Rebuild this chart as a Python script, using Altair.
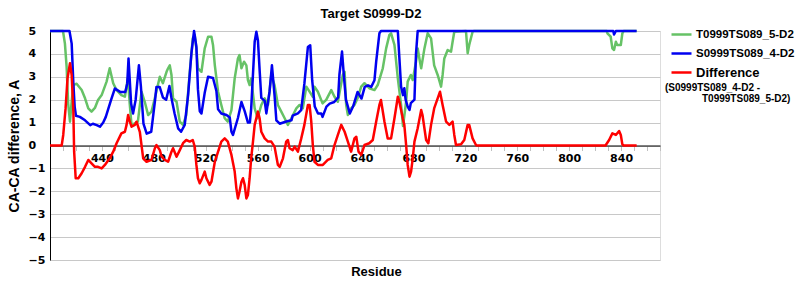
import altair as alt
import pandas as pd

title_text = "Target S0999-D2"
names = ["T0999TS089_5-D2", "S0999TS089_4-D2", "Difference"]
colors = ["#66c266", "#0000f0", "#ff0000"]
note_lines = ["(S0999TS089_4-D2 -", "T0999TS089_5-D2)"]
x_ticks = list(range(400, 871, 10))
x_labels = list(range(440, 841, 40))
y_ticks = list(range(-5, 6))

green_res = [400, 410, 411.5, 412.8, 414, 415.4, 416.5, 418, 420.5, 424.4, 427, 429.5, 432, 434.6, 437, 439.8,
             443.6, 446, 448.7, 451.3, 455, 457.7, 460, 461.5, 462.8, 465.4, 467.7, 470.5, 473, 475.6, 478.2,
             480.8, 484.6, 487, 489.8, 491, 492.3, 493.6, 494.8, 497.5, 500, 502.5, 505, 507.7, 510, 511.5,
             512.8, 514, 516.7, 519.2, 521.8, 524.4, 525.6, 527, 529.5, 532, 534.6, 537, 539.8, 542.3, 544.8,
             546, 547.5, 549.5, 551.3, 552.5, 553.8, 555, 557.7, 560, 562.8, 565.4, 568, 570.5, 573, 575.6,
             578.2, 580.8, 583.3, 586, 589.8, 592.3, 594.8, 597.5, 600, 602.5, 603.8, 606.4, 610, 612.8, 616.7,
             619.2, 621.8, 625.6, 627, 628.2, 629.5, 632, 634.6, 637, 639.8, 642.3, 646, 650, 652.5, 656.4, 659,
             661.5, 662.8, 665.4, 668, 670.5, 672, 674.4, 675.6, 678, 679.5, 682, 683.3, 684.6, 686, 688.5, 691,
             693.6, 696, 698.7, 701.3, 702.5, 703.8, 706.4, 709, 710.2, 711.5, 720.5, 721.8, 723, 725.6, 726.5,
             829, 829.5, 832, 833.3, 834.6, 836, 837, 839.8, 841, 842, 852]
green_val = [5, 5, 4.45, 3.43, 1.83, 1.04, 1.8, 2.64, 2.7, 2.42, 2.06, 1.62, 1.48, 1.64, 1.99, 2.2,
             2.79, 3.37, 2.72, 2.42, 2.2, 2.13, 2.95, 1.77, 0.9, 0.97, 1.04, 2.35, 1.91, 1.33, 1.48,
             2.07, 3.0, 2.72, 3.22, 3.37, 3.5, 3.08, 2.06, 1.91, 1.04, 0.9, 1.33, 3.22, 4.68, 4.83,
             4.24, 3.37, 3.22, 4.24, 4.75, 4.75, 4.39, 3.5, 2.35, 1.77, 1.19, 1.04, 1.55, 2.93, 3.8,
             3.95, 3.37, 3.66, 3.5, 2.86, 2.64, 2.93, 1.62, 1.19, 1.77, 2.06, 1.77, 3.08, 2.64, 1.77,
             1.48, 1.19, 0.9, 1.19, 1.62, 1.77, 1.62, 2.57, 2.35, 2.13, 2.57, 2.35, 1.84, 1.99, 2.42,
             2.13, 1.91, 3.08, 3.22, 1.77, 1.33, 1.62, 1.77, 2.06, 2.57, 2.72, 2.5, 2.42, 2.64, 3.37, 4.24,
             4.83, 4.9, 4.39, 2.93, 1.77, 0.85, 1.91, 2.79, 3.08, 2.86, 3.66, 4.24, 3.8, 3.37, 4.24, 4.9,
             4.68, 3.5, 3.08, 2.57, 3.08, 3.8, 4.17, 4.1, 4.53, 4.97, 5, 4.03, 4.39, 4.97, 5,
             5, 4.9, 4.75, 4.24, 4.17, 4.53, 4.39, 4.39, 4.9, 5, 5]

blue_res = [400, 415, 416.7, 418, 419, 420, 423, 427, 431, 433, 436, 438.5, 441, 443, 447, 450, 454, 458,
            459.5, 460.5, 462.5, 464, 466, 468.5, 470, 472, 474.5, 478, 481, 482, 484.5, 487, 489.5, 492,
            493.5, 496, 498.7, 501, 503.8, 506.4, 509, 511, 512.8, 514, 515.4, 516.7, 519.2, 521.8, 525.6,
            528.2, 529.5, 532, 536, 538.5, 539.8, 541, 544.8, 547.5, 550, 552.5, 554, 555, 557.7, 559, 560.2,
            561.5, 562.8, 565.4, 566.7, 569.2, 571, 573, 574.4, 577, 582, 586, 587, 591, 593.5, 596, 598.7,
            600.5, 602, 604, 606.5, 609, 610, 613, 615.5, 619, 622, 623, 625, 626.5, 628, 631, 633.5, 637,
            640, 642.5, 645, 647.5, 650, 651.3, 653.8, 655, 668, 669, 670.5, 672, 673, 674, 675.6, 677, 678,
            680.8, 682, 683.3, 834, 834.6, 836, 852]
blue_val = [5, 5, 4.45, 2.7, 1.7, 1.3, 1.25, 1.1, 0.89, 0.95, 0.89, 0.82, 1.0, 1.25, 1.98, 2.49, 2.34, 2.34,
            2.7, 3.8, 1.83, 1.4, 2.0, 3.5, 2.6, 0.96, 0.52, 0.6, 2.0, 2.56, 2.56, 2.1, 2.0, 2.6,
            2.1, 1.4, 0.75, 0.6, 0.9, 2.2, 4.05, 5.0, 4.3, 2.45, 1.5, 1.4, 2.3, 3.0, 2.95,
            2.38, 1.58, 1.4, 1.33, 1.22, 0.6, 0.46, 1.2, 1.9, 1.5, 1.0, 1.0, 1.6, 4.53, 4.97, 4.6,
            3.3, 2.08, 1.95, 1.4, 2.37, 3.5, 2.2, 1.1, 0.95, 1.05, 1.1, 1.3, 1.4, 1.54, 2.7, 4.3,
            4.38, 2.85, 1.7, 1.4, 1.4, 1.25, 1.7, 1.83, 1.9, 2.1, 3.1, 4.1, 3.0, 2.0, 1.4, 1.7, 2.34,
            2.05, 2.56, 2.63, 2.56, 2.85, 3.65, 4.9, 5, 5, 4.0, 2.57, 2.2, 2.5, 2.0, 1.7, 1.55, 1.85,
            2.0, 4.0, 5, 5, 4.85, 5, 5]

red_res = [400, 409, 410.2, 412, 413.5, 415.4, 416.7, 418, 418.6, 419.8, 421.8, 424.4, 427, 429.5, 432, 434.6,
           437, 439.8, 442.3, 446, 448.7, 451.3, 455, 457.7, 459, 460.2, 461.5, 462.8, 465.4, 466.7, 469.2,
           470.5, 471.8, 474.4, 478.2, 480.8, 482, 484.6, 486, 488.5, 491, 493.6, 494.8, 497.5, 500, 502.5,
           505, 507.7, 510, 511.5, 512.8, 514, 515.4, 516.7, 519.2, 520.5, 523, 524.4, 527, 529.5, 532,
           534.6, 537, 539.8, 542.3, 543.6, 544.8, 546, 547.5, 548.7, 550, 551.3, 552.5, 553.8, 555, 556.4,
           557.7, 560.2, 561.5, 562.8, 565.4, 568, 570.5, 573, 575.6, 577, 579.5, 582, 583.3, 584.6, 587,
           588.5, 591, 593.6, 596, 598.7, 600, 601.3, 602.5, 603.8, 606.4, 610.2, 614, 616.7, 619.2, 621.8,
           624.4, 627, 629.5, 632, 634.6, 636, 637.7, 639.8, 642.3, 646, 648.7, 651.3, 653.8, 655, 657.7,
           660.2, 662.8, 665.4, 668, 669.2, 671.8, 673, 674.4, 675.6, 677, 678.2, 679.5, 680.8, 683.3, 686,
           687, 689.8, 691.5, 693.6, 696, 698.7, 700.5, 702.5, 705.2, 707.7, 710.2, 711.5, 712.8, 716.7,
           719.2, 721.8, 723, 725.6, 728.2, 729, 828, 830.8, 833.3, 836, 838.5, 839.8, 841, 842, 852]
red_val = [0, 0, 0.46, 1.62, 2.93, 3.59, 3.08, 1.48, -0.27, -1.43, -1.43, -1.21, -0.93, -0.63, -0.78, -0.93,
           -0.93, -1.0, -0.85, -0.56, -0.27, 0.1, 0.53, 0.6, 0.9, 1.33, 1.04, 0.82, 0.9, 1.04, 0.6,
           0.02, -0.56, -0.71, -0.63, -0.12, 0.02, -0.2, -0.49, -0.63, -0.71, -0.27, -0.12, -0.49, -0.2, 0.1,
           0.24, 0.17, 0.24, -0.05, -0.85, -1.43, -1.65, -1.5, -1.14, -1.43, -1.72, -1.58, -0.71, -0.27, 0.17,
           0.31, 0.17, -0.41, -1.14, -1.87, -2.31, -2.02, -1.58, -1.43, -1.72, -2.31, -2.16, -1.43, -0.56, 0.17,
           0.9, 1.48, 1.19, 0.6, 0.31, 0.17, 0.17, -0.05, -0.85, -0.93, -0.56, 0.17, 0.24, -0.12, -0.2,
           -0.05, -0.27, 0.31, 0.9, 1.77, 1.77, 1.04, 0.02, -0.71, -0.85, -0.85, -0.63, -0.56, 0.02, 0.46,
           0.9, 0.6, 0.17, -0.27, 0.31, 0.38, -0.27, -0.41, 0.02, 0.1, 0.24, 1.04, 1.77, 1.99, 1.04,
           0.31, 0.31, 1.19, 2.13, 1.91, 1.19, 0.9, 0.02, -0.85, -1.36, -1.14, -0.56, 0.17, 0.75, 1.55,
           1.33, 0.24, 0.1, 0.9, 1.62, 2.06, 2.35, 1.77, 1.04, 0.9, 1.04, 0.46, 0.02, 0.05,
           0.24, 0.9, 0.9, 0.31, 0.02, 0, 0, 0.24, 0.53, 0.46, 0.63, 0.46, 0.05, 0, 0]

rows = []
for name, rs, vs in [(names[0], green_res, green_val), (names[1], blue_res, blue_val), (names[2], red_res, red_val)]:
    for r, v in zip(rs, vs):
        rows.append({"series": name, "residue": r, "value": v})
df = pd.DataFrame(rows)

tick_font = "DejaVu Sans"
title_font = "Liberation Sans"

label_expr = "indexof([" + ",".join(str(v) for v in x_labels) + "], datum.value) >= 0 ? datum.label : ''"

lines = alt.Chart(df).mark_line(strokeWidth=2.5, strokeJoin="round").encode(
    x=alt.X("residue:Q",
            scale=alt.Scale(domain=[400, 870], nice=False, zero=False),
            axis=alt.Axis(values=x_ticks, labelExpr=label_expr, offset=-114.5, grid=False,
                          domainColor="#000000", domainWidth=1, tickColor="#c0c0c0", tickSize=5,
                          labelPadding=2, labelFont=tick_font, labelFontSize=11, labelFontWeight="bold",
                          labelColor="#000000", labelFlush=False, labelOverlap=False,
                          title="Residue", titleFont=title_font, titleFontSize=13, titleFontWeight="bold",
                          titleColor="#000000", titleX=326, titleY=129.5, titleBaseline="alphabetic",
                          titleAlign="center")),
    y=alt.Y("value:Q",
            scale=alt.Scale(domain=[-5, 5], nice=False),
            axis=alt.Axis(values=y_ticks, format="d", grid=True, gridColor="#c8c8c8", gridWidth=1,
                          ticks=False, domainColor="#000000", domainWidth=1,
                          labelAlign="left", labelPadding=22, labelFont=tick_font, labelFontSize=11,
                          labelFontWeight="bold", labelColor="#000000", labelBaseline="middle",
                          title="CA-CA difference, A", titleFont=title_font, titleFontSize=14,
                          titleFontWeight="bold", titleColor="#000000", titleX=-36, titleY=114.5,
                          titleAlign="center", titleBaseline="middle", titleAngle=-90)),
    color=alt.Color("series:N",
                    scale=alt.Scale(domain=names, range=colors),
                    legend=alt.Legend(orient="none", legendX=620, legendY=-8, title=None,
                                      symbolType="stroke", symbolSize=400, symbolStrokeWidth=2.5,
                                      labelOffset=3, rowPadding=2, labelFont=title_font,
                                      labelFontSize=alt.ExprRef(expr="datum.label == 'Difference' ? 13 : 11.5"),
                                      labelFontWeight="bold", labelColor="#000000",
                                      labelLimit=200)),
)

note1 = alt.Chart(alt.Data(values=[{}])).mark_text(
    align="left", baseline="alphabetic", font=title_font, fontSize=10, fontWeight="bold", color="#000000"
).encode(x=alt.value(615), y=alt.value(60), text=alt.value(note_lines[0]))
note2 = alt.Chart(alt.Data(values=[{}])).mark_text(
    align="left", baseline="alphabetic", font=title_font, fontSize=10, fontWeight="bold", color="#000000"
).encode(x=alt.value(652), y=alt.value(71), text=alt.value(note_lines[1]))

chart = alt.layer(lines, note1, note2).properties(
    width=610, height=229,
    autosize=alt.AutoSizeParams(type="none"),
    padding={"left": 50, "top": 31, "right": 140, "bottom": 40},
    title=alt.TitleParams(title_text, font=title_font, fontSize=13, fontWeight="bold", color="#000000",
                          anchor="middle", dx=16, dy=19, offset=11, baseline="alphabetic"),
).configure_view(stroke="#c8c8c8", strokeWidth=1).configure(background="#ffffff")

chart.save("out.html", embed_options={"renderer": "svg", "actions": False})
